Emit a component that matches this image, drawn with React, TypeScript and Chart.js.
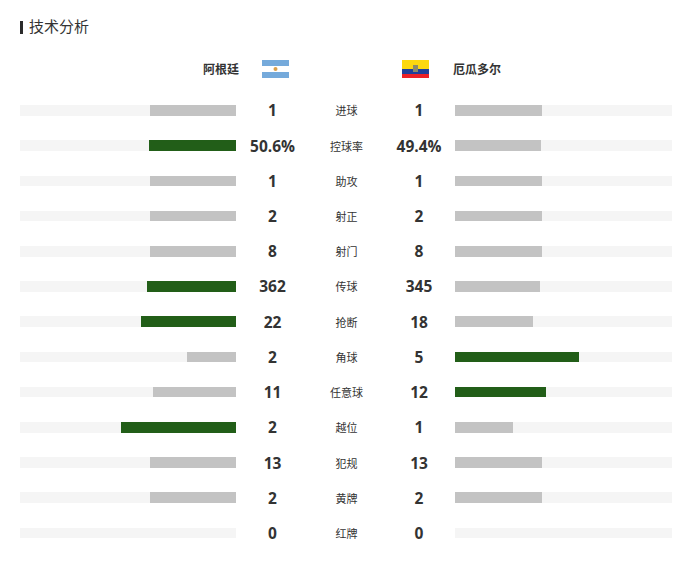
import React, { useEffect, useRef } from "react";
import { Chart, registerables } from "chart.js";

Chart.register(...registerables);

const title = "技术分析";
const homeTeam = "阿根廷";
const awayTeam = "厄瓜多尔";
const categories = ["进球", "控球率", "助攻", "射正", "射门", "传球", "抢断", "角球", "任意球", "越位", "犯规", "黄牌", "红牌"];
const homeLabels = ["1", "50.6%", "1", "2", "8", "362", "22", "2", "11", "2", "13", "2", "0"];
const awayLabels = ["1", "49.4%", "1", "2", "8", "345", "18", "5", "12", "1", "13", "2", "0"];
const homeBar = [40, 40.5, 40, 40, 40, 41, 44, 22.9, 38.3, 53.3, 40, 40, 0];
const awayBar = [40, 39.5, 40, 40, 40, 39, 36, 57.1, 41.7, 26.7, 40, 40, 0];
const track = [100, 100, 100, 100, 100, 100, 100, 100, 100, 100, 100, 100, 100];
const homeLeads = [false, true, false, false, false, true, true, false, false, true, false, false, false];
const awayLeads = [false, false, false, false, false, false, false, true, true, false, false, false, false];

const GREEN = "#225e18";
const GREY = "#c3c3c3";
const TRACK = "#f5f5f5";
const INK = "#333333";
const CJK = '"Noto Sans CJK SC", "Open Sans", sans-serif';
const NUM = '"Open Sans", "Noto Sans CJK SC", sans-serif';

const snapBars = {
  id: "snapBars",
  afterDatasetsUpdate(chart: any) {
    chart.getSortedVisibleDatasetMetas().forEach((meta: any) => {
      meta.data.forEach((el: any) => {
        const top = Math.round(el.y - el.height / 2);
        const bottom = Math.round(el.y + el.height / 2);
        el.y = (top + bottom) / 2;
        el.height = bottom - top;
        el.x = Math.round(el.x);
        el.base = Math.round(el.base);
      });
    });
  },
};

const decor = {
  id: "decor",
  beforeDraw(chart: any) {
    const c = chart.ctx;
    c.save();
    c.fillStyle = "#ffffff";
    c.fillRect(0, 0, chart.width, chart.height);
    c.restore();
  },
  afterDraw(chart: any) {
    const c = chart.ctx;
    const y = chart.scales.y;
    c.save();
    c.fillStyle = "#2b2b2b";
    c.fillRect(20, 21, 3, 13);
    c.textBaseline = "middle";
    c.fillStyle = INK;
    c.textAlign = "left";
    c.font = `15px ${CJK}`;
    c.fillText(title, 29, 26);
    c.font = `bold 12px ${CJK}`;
    c.textAlign = "right";
    c.fillText(homeTeam, 239, 69.5);
    c.textAlign = "left";
    c.fillText(awayTeam, 453, 69.5);

    // Flags
    c.fillStyle = "#75aadb";
    c.fillRect(262, 60, 27, 18);
    c.fillStyle = "#ffffff";
    c.fillRect(262, 66, 27, 6);
    c.fillStyle = "#dba04a";
    c.beginPath();
    c.arc(275.5, 69, 2, 0, Math.PI * 2);
    c.fill();
    c.fillStyle = "#fcd80f";
    c.fillRect(402, 60, 27, 9);
    c.fillStyle = "#1f3f9a";
    c.fillRect(402, 69, 27, 5);
    c.fillStyle = "#ec2027";
    c.fillRect(402, 74, 27, 4);
    c.fillStyle = "#8a8a6a";
    c.fillRect(413, 65, 5, 7);

    c.textAlign = "center";
    categories.forEach((name, i) => {
      const py = Math.floor(y.getPixelForValue(i) + 0.45);
      c.fillStyle = INK;
      c.font = `bold 15.5px ${NUM}`;
      c.fillText(homeLabels[i], 272.5, py + 2);
      c.fillText(awayLabels[i], 419, py + 2);
      c.font = `11px ${CJK}`;
      c.fillText(name, 346.5, py + 1);
    });
    c.restore();
  },
};

export default function App() {
  const ref = useRef<HTMLCanvasElement | null>(null);
  useEffect(() => {
    const canvas = ref.current!;
    canvas.getContext("2d", { alpha: false });
    const shared = { borderWidth: 0, inflateAmount: 0, barThickness: 10.6, grouped: false };
    const chart = new Chart(canvas, {
      type: "bar",
      data: {
        labels: categories,
        datasets: [
          { label: "home", data: homeBar, xAxisID: "xHome", order: 1, backgroundColor: homeLeads.map((w) => (w ? GREEN : GREY)), ...shared },
          { label: "away", data: awayBar, xAxisID: "xAway", order: 1, backgroundColor: awayLeads.map((w) => (w ? GREEN : GREY)), ...shared },
          { label: "homeTrack", data: track, xAxisID: "xHome", order: 2, backgroundColor: TRACK, ...shared },
          { label: "awayTrack", data: track, xAxisID: "xAway", order: 2, backgroundColor: TRACK, ...shared },
        ],
      },
      options: {
        indexAxis: "y",
        animation: false,
        responsive: false,
        devicePixelRatio: 1,
        layout: { padding: { top: 92.9, bottom: 16.4, left: 0, right: 0 } },
        plugins: { legend: { display: false }, tooltip: { enabled: false } },
        scales: {
          y: { type: "category", display: false, offset: true, grid: { display: false } },
          xHome: { type: "linear", display: false, reverse: true, min: -207.4, max: 109.26 },
          xAway: { type: "linear", display: false, min: -209.7, max: 105.5 },
        },
      },
      plugins: [snapBars, decor],
    } as any);
    return () => chart.destroy();
  }, []);
  return (
    <canvas
      ref={ref}
      width={684}
      height={567}
      style={{ position: "absolute", left: 0, top: 0, width: 684, height: 567, display: "block" }}
    />
  );
}
